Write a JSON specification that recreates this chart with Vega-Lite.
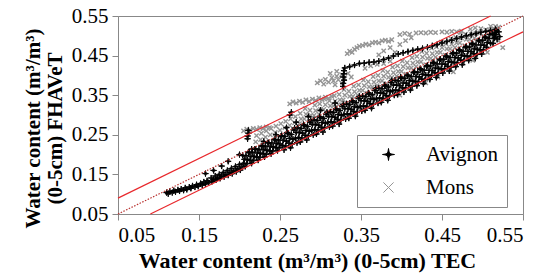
{
"$schema": "https://vega.github.io/schema/vega-lite/v6.json",
"width": 405,
"height": 198,
"autosize": {"type": "none"},
"padding": {"left": 118, "top": 16, "right": 24, "bottom": 61},
"background": "white",
"config": {
  "font": "Liberation Serif, Times New Roman, serif",
  "view": {"stroke": "#888888", "strokeWidth": 1},
  "axis": {"grid": false, "domainColor": "#888888", "tickColor": "#888888", "labelColor": "#000000", "labelFontSize": 21, "labelFont": "Liberation Serif, Times New Roman, serif", "titleFont": "Liberation Serif, Times New Roman, serif", "titleFontSize": 21, "titleFontWeight": "bold", "titleColor": "#000000", "tickSize": 6, "labelPadding": 4},
  "legend": {"labelFont": "Liberation Serif, Times New Roman, serif", "labelFontSize": 21, "labelColor": "#000000"}
},
"encoding": {
  "x": {"field": "x", "type": "quantitative", "scale": {"domain": [0.05, 0.55], "nice": false, "zero": false},
        "axis": {"values": [0.05, 0.15, 0.25, 0.35, 0.45, 0.55], "format": ".2f", "title": "Water content (m³/m³)  (0-5cm) TEC", "titleFontSize": 22, "titlePadding": 5, "titleX": 189}},
  "y": {"field": "y", "type": "quantitative", "scale": {"domain": [0.05, 0.55], "nice": false, "zero": false},
        "axis": {"values": [0.05, 0.15, 0.25, 0.35, 0.45, 0.55], "format": ".2f", "title": ["Water content (m³/m³)", "(0-5cm) FHAVeT"], "titlePadding": 6, "titleY": 112, "titleLineHeight": 22}}
},
"layer": [
{
  "data": {"values": [
{"x":0.220,"y":0.232},{"x":0.221,"y":0.248},{"x":0.226,"y":0.238},{"x":0.227,"y":0.254},{"x":0.232,"y":0.244},{"x":0.233,"y":0.260},{"x":0.238,"y":0.250},{"x":0.239,"y":0.266},{"x":0.244,"y":0.256},{"x":0.245,"y":0.272},{"x":0.250,"y":0.262},{"x":0.251,"y":0.278},{"x":0.256,"y":0.268},{"x":0.257,"y":0.284},{"x":0.262,"y":0.274},{"x":0.263,"y":0.290},{"x":0.268,"y":0.280},{"x":0.269,"y":0.296},
{"x":0.274,"y":0.278},{"x":0.276,"y":0.290},{"x":0.275,"y":0.304},
{"x":0.280,"y":0.290},{"x":0.282,"y":0.302},{"x":0.281,"y":0.316},
{"x":0.286,"y":0.283},{"x":0.288,"y":0.299},{"x":0.287,"y":0.312},
{"x":0.292,"y":0.299},{"x":0.294,"y":0.311},{"x":0.293,"y":0.325},
{"x":0.298,"y":0.302},{"x":0.300,"y":0.314},{"x":0.299,"y":0.328},
{"x":0.304,"y":0.314},{"x":0.306,"y":0.326},{"x":0.305,"y":0.340},
{"x":0.310,"y":0.307},{"x":0.312,"y":0.323},{"x":0.311,"y":0.336},
{"x":0.316,"y":0.323},{"x":0.318,"y":0.335},{"x":0.317,"y":0.349},
{"x":0.322,"y":0.326},{"x":0.324,"y":0.338},{"x":0.323,"y":0.352},
{"x":0.328,"y":0.338},{"x":0.330,"y":0.350},{"x":0.329,"y":0.364},
{"x":0.334,"y":0.331},{"x":0.336,"y":0.347},{"x":0.335,"y":0.360},
{"x":0.340,"y":0.347},{"x":0.342,"y":0.359},{"x":0.341,"y":0.373},
{"x":0.346,"y":0.350},{"x":0.348,"y":0.362},{"x":0.347,"y":0.376},
{"x":0.352,"y":0.362},{"x":0.354,"y":0.374},{"x":0.353,"y":0.388},
{"x":0.358,"y":0.355},{"x":0.360,"y":0.371},{"x":0.359,"y":0.384},
{"x":0.364,"y":0.371},{"x":0.366,"y":0.383},{"x":0.365,"y":0.397},
{"x":0.370,"y":0.374},{"x":0.372,"y":0.386},{"x":0.371,"y":0.400},
{"x":0.376,"y":0.386},{"x":0.378,"y":0.398},{"x":0.377,"y":0.412},
{"x":0.382,"y":0.379},{"x":0.384,"y":0.395},{"x":0.383,"y":0.408},
{"x":0.388,"y":0.395},{"x":0.390,"y":0.407},{"x":0.389,"y":0.421},
{"x":0.394,"y":0.398},{"x":0.396,"y":0.410},{"x":0.395,"y":0.424},
{"x":0.400,"y":0.410},{"x":0.402,"y":0.422},{"x":0.401,"y":0.436},
{"x":0.406,"y":0.403},{"x":0.408,"y":0.419},{"x":0.407,"y":0.432},
{"x":0.412,"y":0.419},{"x":0.414,"y":0.431},{"x":0.413,"y":0.445},
{"x":0.418,"y":0.422},{"x":0.420,"y":0.434},{"x":0.419,"y":0.448},
{"x":0.424,"y":0.434},{"x":0.426,"y":0.446},{"x":0.425,"y":0.460},
{"x":0.430,"y":0.427},{"x":0.432,"y":0.443},{"x":0.431,"y":0.456},
{"x":0.436,"y":0.443},{"x":0.438,"y":0.455},{"x":0.437,"y":0.469},
{"x":0.442,"y":0.446},{"x":0.444,"y":0.458},{"x":0.443,"y":0.472},
{"x":0.448,"y":0.458},{"x":0.450,"y":0.470},{"x":0.449,"y":0.484},
{"x":0.454,"y":0.451},{"x":0.456,"y":0.467},{"x":0.455,"y":0.480},
{"x":0.460,"y":0.467},{"x":0.462,"y":0.479},{"x":0.461,"y":0.493},
{"x":0.466,"y":0.470},{"x":0.468,"y":0.482},{"x":0.467,"y":0.496},
{"x":0.472,"y":0.482},{"x":0.474,"y":0.494},{"x":0.473,"y":0.508},
{"x":0.478,"y":0.475},{"x":0.480,"y":0.491},{"x":0.479,"y":0.504},
{"x":0.484,"y":0.491},{"x":0.486,"y":0.503},{"x":0.485,"y":0.517},
{"x":0.490,"y":0.494},{"x":0.492,"y":0.506},{"x":0.491,"y":0.520},
{"x":0.496,"y":0.506},{"x":0.498,"y":0.518},
{"x":0.502,"y":0.499},{"x":0.504,"y":0.515},
{"x":0.508,"y":0.515},{"x":0.510,"y":0.524},
{"x":0.514,"y":0.518},{"x":0.516,"y":0.524},
{"x":0.520,"y":0.522},
{"x":0.205,"y":0.260},{"x":0.209,"y":0.264},{"x":0.213,"y":0.262},{"x":0.217,"y":0.266},{"x":0.221,"y":0.264},{"x":0.225,"y":0.268},{"x":0.229,"y":0.266},{"x":0.233,"y":0.270},{"x":0.237,"y":0.268},
{"x":0.262,"y":0.328},{"x":0.266,"y":0.333},{"x":0.270,"y":0.330},{"x":0.274,"y":0.335},{"x":0.278,"y":0.332},{"x":0.282,"y":0.338},{"x":0.286,"y":0.334},{"x":0.290,"y":0.340},{"x":0.294,"y":0.337},{"x":0.298,"y":0.343},{"x":0.302,"y":0.339},{"x":0.306,"y":0.345},{"x":0.310,"y":0.342},{"x":0.314,"y":0.347},
{"x":0.296,"y":0.381},{"x":0.300,"y":0.386},{"x":0.304,"y":0.378},{"x":0.306,"y":0.390},{"x":0.310,"y":0.383},{"x":0.314,"y":0.394},{"x":0.316,"y":0.386},{"x":0.320,"y":0.398},{"x":0.322,"y":0.389},{"x":0.326,"y":0.402},{"x":0.330,"y":0.392},{"x":0.334,"y":0.405},{"x":0.338,"y":0.396},{"x":0.318,"y":0.376},{"x":0.327,"y":0.380},{"x":0.312,"y":0.405},{"x":0.320,"y":0.410},
{"x":0.333,"y":0.455},{"x":0.336,"y":0.461},{"x":0.339,"y":0.458},{"x":0.342,"y":0.466},{"x":0.345,"y":0.470},{"x":0.348,"y":0.474},{"x":0.352,"y":0.476},{"x":0.356,"y":0.479},{"x":0.360,"y":0.477},{"x":0.364,"y":0.482},{"x":0.368,"y":0.484},{"x":0.372,"y":0.482},{"x":0.376,"y":0.487},{"x":0.380,"y":0.489},{"x":0.384,"y":0.486},{"x":0.388,"y":0.490},
{"x":0.398,"y":0.503},{"x":0.404,"y":0.506},{"x":0.410,"y":0.504},{"x":0.418,"y":0.507},{"x":0.424,"y":0.508},{"x":0.430,"y":0.507},{"x":0.436,"y":0.509},{"x":0.442,"y":0.508},{"x":0.450,"y":0.510},{"x":0.456,"y":0.509},{"x":0.462,"y":0.511},{"x":0.468,"y":0.510},{"x":0.474,"y":0.512},
{"x":0.372,"y":0.452},{"x":0.378,"y":0.462},{"x":0.386,"y":0.470},{"x":0.392,"y":0.458},{"x":0.398,"y":0.478},{"x":0.405,"y":0.488},{"x":0.412,"y":0.495},
{"x":0.355,"y":0.418},{"x":0.362,"y":0.424},{"x":0.370,"y":0.428},{"x":0.378,"y":0.430},{"x":0.386,"y":0.436},
{"x":0.398,"y":0.350},{"x":0.430,"y":0.381},{"x":0.445,"y":0.396},{"x":0.464,"y":0.409},{"x":0.488,"y":0.438},{"x":0.506,"y":0.458},{"x":0.525,"y":0.470},{"x":0.520,"y":0.487}
  ]},
  "mark": {"type": "point", "filled": false, "fill": "#000000", "strokeWidth": 1.4, "size": 26, "opacity": 1},
  "encoding": {
    "color": {"datum": "Mons", "type": "nominal", "scale": {"domain": ["Avignon", "Mons"], "range": ["#000000", "#959595"]},
      "legend": {"title": null, "orient": "none", "legendX": 239, "legendY": 119, "strokeColor": "#888888", "fillColor": "#ffffff", "padding": 9, "symbolOffset": 12, "labelOffset": 27, "rowPadding": 11, "symbolSize": 144, "symbolStrokeWidth": 1, "symbolFillColor": "#000000"}},
    "shape": {"datum": "Mons", "type": "nominal", "scale": {"domain": ["Avignon", "Mons"], "range": ["M0,-1C0.1,-0.2 0.2,-0.1 1,0C0.2,0.1 0.1,0.2 0,1C-0.1,0.2 -0.2,0.1 -1,0C-0.2,-0.1 -0.1,-0.2 0,-1Z", "M-0.85,-0.85L0.85,0.85M0.85,-0.85L-0.85,0.85"]},
      "legend": {"title": null, "orient": "none", "legendX": 239, "legendY": 119, "strokeColor": "#888888", "fillColor": "#ffffff", "padding": 9, "symbolOffset": 12, "labelOffset": 27, "rowPadding": 11, "symbolSize": 144, "symbolStrokeWidth": 1, "symbolFillColor": "#000000"}}
  }
},
{
  "data": {"values": [
{"x":0.110,"y":0.104},{"x":0.112,"y":0.101},{"x":0.114,"y":0.107},{"x":0.117,"y":0.104},{"x":0.119,"y":0.109},{"x":0.121,"y":0.106},{"x":0.124,"y":0.111},{"x":0.126,"y":0.108},{"x":0.128,"y":0.113},{"x":0.131,"y":0.110},{"x":0.133,"y":0.116},{"x":0.135,"y":0.112},{"x":0.138,"y":0.118},{"x":0.140,"y":0.115},{"x":0.142,"y":0.121},{"x":0.145,"y":0.118},{"x":0.147,"y":0.124},{"x":0.149,"y":0.120},{"x":0.152,"y":0.127},{"x":0.154,"y":0.123},{"x":0.156,"y":0.131},{"x":0.158,"y":0.126},{"x":0.160,"y":0.134},{"x":0.162,"y":0.129},
{"x":0.165,"y":0.141},{"x":0.166,"y":0.132},{"x":0.168,"y":0.137},{"x":0.170,"y":0.146},{"x":0.171,"y":0.136},{"x":0.173,"y":0.141},{"x":0.175,"y":0.150},{"x":0.176,"y":0.140},{"x":0.178,"y":0.146},{"x":0.180,"y":0.155},{"x":0.181,"y":0.144},{"x":0.183,"y":0.150},{"x":0.185,"y":0.160},{"x":0.186,"y":0.148},{"x":0.188,"y":0.155},{"x":0.190,"y":0.165},{"x":0.191,"y":0.152},{"x":0.193,"y":0.159},{"x":0.195,"y":0.170},{"x":0.196,"y":0.157},{"x":0.198,"y":0.164},{"x":0.200,"y":0.175},{"x":0.201,"y":0.161},{"x":0.203,"y":0.169},
{"x":0.158,"y":0.152},{"x":0.168,"y":0.160},{"x":0.178,"y":0.171},{"x":0.186,"y":0.183},{"x":0.200,"y":0.200},{"x":0.215,"y":0.214},{"x":0.230,"y":0.233},{"x":0.245,"y":0.250},{"x":0.258,"y":0.268},{"x":0.270,"y":0.282},{"x":0.262,"y":0.300},{"x":0.264,"y":0.307},{"x":0.285,"y":0.296},{"x":0.300,"y":0.312},{"x":0.318,"y":0.330},
{"x":0.210,"y":0.240},{"x":0.210,"y":0.247},{"x":0.211,"y":0.254},{"x":0.211,"y":0.261},
{"x":0.204,"y":0.198},{"x":0.206,"y":0.188},{"x":0.205,"y":0.178},{"x":0.207,"y":0.170},
{"x":0.208,"y":0.197},{"x":0.210,"y":0.187},{"x":0.209,"y":0.177},{"x":0.211,"y":0.206},
{"x":0.212,"y":0.206},{"x":0.214,"y":0.196},{"x":0.213,"y":0.186},{"x":0.215,"y":0.178},
{"x":0.216,"y":0.205},{"x":0.218,"y":0.195},{"x":0.217,"y":0.185},{"x":0.219,"y":0.214},
{"x":0.220,"y":0.214},{"x":0.222,"y":0.204},{"x":0.221,"y":0.194},{"x":0.223,"y":0.186},
{"x":0.224,"y":0.213},{"x":0.226,"y":0.203},{"x":0.225,"y":0.193},{"x":0.227,"y":0.222},
{"x":0.228,"y":0.222},{"x":0.230,"y":0.212},{"x":0.229,"y":0.202},{"x":0.231,"y":0.194},
{"x":0.232,"y":0.221},{"x":0.234,"y":0.211},{"x":0.233,"y":0.201},{"x":0.235,"y":0.230},
{"x":0.236,"y":0.230},{"x":0.238,"y":0.220},{"x":0.237,"y":0.210},{"x":0.239,"y":0.202},
{"x":0.240,"y":0.229},{"x":0.242,"y":0.219},{"x":0.241,"y":0.209},{"x":0.243,"y":0.238},
{"x":0.244,"y":0.238},{"x":0.246,"y":0.228},{"x":0.245,"y":0.218},{"x":0.247,"y":0.210},
{"x":0.248,"y":0.237},{"x":0.250,"y":0.227},{"x":0.249,"y":0.217},{"x":0.251,"y":0.246},
{"x":0.252,"y":0.248},{"x":0.254,"y":0.236},{"x":0.253,"y":0.223},{"x":0.255,"y":0.212},
{"x":0.256,"y":0.246},{"x":0.258,"y":0.234},{"x":0.257,"y":0.222},{"x":0.259,"y":0.256},
{"x":0.260,"y":0.253},{"x":0.262,"y":0.241},{"x":0.261,"y":0.229},{"x":0.263,"y":0.217},
{"x":0.264,"y":0.251},{"x":0.266,"y":0.239},{"x":0.265,"y":0.227},{"x":0.267,"y":0.262},
{"x":0.268,"y":0.267},{"x":0.270,"y":0.256},{"x":0.269,"y":0.241},{"x":0.271,"y":0.230},
{"x":0.272,"y":0.268},{"x":0.274,"y":0.256},{"x":0.273,"y":0.243},{"x":0.275,"y":0.232},
{"x":0.276,"y":0.266},{"x":0.278,"y":0.254},{"x":0.277,"y":0.242},{"x":0.279,"y":0.276},
{"x":0.280,"y":0.273},{"x":0.282,"y":0.261},{"x":0.281,"y":0.249},{"x":0.283,"y":0.237},
{"x":0.284,"y":0.271},{"x":0.286,"y":0.259},{"x":0.285,"y":0.247},{"x":0.287,"y":0.282},
{"x":0.288,"y":0.287},{"x":0.290,"y":0.276},{"x":0.289,"y":0.261},{"x":0.291,"y":0.250},
{"x":0.292,"y":0.288},{"x":0.294,"y":0.276},{"x":0.293,"y":0.263},{"x":0.295,"y":0.252},
{"x":0.296,"y":0.286},{"x":0.298,"y":0.274},{"x":0.297,"y":0.262},{"x":0.299,"y":0.296},
{"x":0.300,"y":0.293},{"x":0.302,"y":0.281},{"x":0.301,"y":0.269},{"x":0.303,"y":0.257},
{"x":0.304,"y":0.291},{"x":0.306,"y":0.279},{"x":0.305,"y":0.267},{"x":0.307,"y":0.302},
{"x":0.308,"y":0.307},{"x":0.310,"y":0.296},{"x":0.309,"y":0.281},{"x":0.311,"y":0.270},
{"x":0.312,"y":0.308},{"x":0.314,"y":0.296},{"x":0.313,"y":0.283},{"x":0.315,"y":0.272},
{"x":0.316,"y":0.306},{"x":0.318,"y":0.294},{"x":0.317,"y":0.282},{"x":0.319,"y":0.316},
{"x":0.320,"y":0.313},{"x":0.322,"y":0.301},{"x":0.321,"y":0.289},{"x":0.323,"y":0.277},
{"x":0.324,"y":0.311},{"x":0.326,"y":0.299},{"x":0.325,"y":0.287},{"x":0.327,"y":0.322},
{"x":0.328,"y":0.327},{"x":0.330,"y":0.316},{"x":0.329,"y":0.301},{"x":0.331,"y":0.290},
{"x":0.332,"y":0.328},{"x":0.334,"y":0.316},{"x":0.333,"y":0.303},{"x":0.335,"y":0.292},
{"x":0.336,"y":0.326},{"x":0.338,"y":0.314},{"x":0.337,"y":0.302},{"x":0.339,"y":0.336},
{"x":0.340,"y":0.333},{"x":0.342,"y":0.321},{"x":0.341,"y":0.309},{"x":0.343,"y":0.297},
{"x":0.344,"y":0.331},{"x":0.346,"y":0.319},{"x":0.345,"y":0.307},{"x":0.347,"y":0.342},
{"x":0.348,"y":0.347},{"x":0.350,"y":0.336},{"x":0.349,"y":0.321},{"x":0.351,"y":0.310},
{"x":0.352,"y":0.348},{"x":0.354,"y":0.336},{"x":0.353,"y":0.323},{"x":0.355,"y":0.312},
{"x":0.356,"y":0.346},{"x":0.358,"y":0.334},{"x":0.357,"y":0.322},{"x":0.359,"y":0.356},
{"x":0.360,"y":0.353},{"x":0.362,"y":0.341},{"x":0.361,"y":0.329},{"x":0.363,"y":0.317},
{"x":0.364,"y":0.351},{"x":0.366,"y":0.339},{"x":0.365,"y":0.327},{"x":0.367,"y":0.362},
{"x":0.368,"y":0.367},{"x":0.370,"y":0.356},{"x":0.369,"y":0.341},{"x":0.371,"y":0.330},
{"x":0.372,"y":0.368},{"x":0.374,"y":0.356},{"x":0.373,"y":0.343},{"x":0.375,"y":0.332},
{"x":0.376,"y":0.366},{"x":0.378,"y":0.354},{"x":0.377,"y":0.342},{"x":0.379,"y":0.376},
{"x":0.380,"y":0.373},{"x":0.382,"y":0.361},{"x":0.381,"y":0.349},{"x":0.383,"y":0.337},
{"x":0.384,"y":0.371},{"x":0.386,"y":0.359},{"x":0.385,"y":0.347},{"x":0.387,"y":0.382},
{"x":0.388,"y":0.387},{"x":0.390,"y":0.376},{"x":0.389,"y":0.361},{"x":0.391,"y":0.350},
{"x":0.392,"y":0.388},{"x":0.394,"y":0.376},{"x":0.393,"y":0.363},{"x":0.395,"y":0.352},
{"x":0.396,"y":0.386},{"x":0.398,"y":0.374},{"x":0.397,"y":0.362},{"x":0.399,"y":0.396},
{"x":0.400,"y":0.393},{"x":0.402,"y":0.381},{"x":0.401,"y":0.369},{"x":0.403,"y":0.358},
{"x":0.404,"y":0.392},{"x":0.406,"y":0.380},{"x":0.405,"y":0.368},{"x":0.407,"y":0.401},
{"x":0.408,"y":0.399},{"x":0.410,"y":0.387},{"x":0.409,"y":0.375},{"x":0.411,"y":0.363},
{"x":0.412,"y":0.397},{"x":0.414,"y":0.385},{"x":0.413,"y":0.373},{"x":0.415,"y":0.407},
{"x":0.416,"y":0.409},{"x":0.418,"y":0.397},{"x":0.417,"y":0.385},{"x":0.419,"y":0.374},
{"x":0.420,"y":0.408},{"x":0.422,"y":0.396},{"x":0.421,"y":0.384},{"x":0.423,"y":0.417},
{"x":0.424,"y":0.415},{"x":0.426,"y":0.403},{"x":0.425,"y":0.391},{"x":0.427,"y":0.379},
{"x":0.428,"y":0.413},{"x":0.430,"y":0.401},{"x":0.429,"y":0.389},{"x":0.431,"y":0.423},
{"x":0.432,"y":0.425},{"x":0.434,"y":0.413},{"x":0.433,"y":0.401},{"x":0.435,"y":0.390},
{"x":0.436,"y":0.424},{"x":0.438,"y":0.412},{"x":0.437,"y":0.400},{"x":0.439,"y":0.433},
{"x":0.440,"y":0.431},{"x":0.442,"y":0.419},{"x":0.441,"y":0.407},{"x":0.443,"y":0.395},
{"x":0.444,"y":0.429},{"x":0.446,"y":0.417},{"x":0.445,"y":0.405},{"x":0.447,"y":0.439},
{"x":0.448,"y":0.441},{"x":0.450,"y":0.429},{"x":0.449,"y":0.417},{"x":0.451,"y":0.406},
{"x":0.452,"y":0.440},{"x":0.454,"y":0.428},{"x":0.453,"y":0.416},{"x":0.455,"y":0.449},
{"x":0.456,"y":0.447},{"x":0.458,"y":0.435},{"x":0.457,"y":0.423},{"x":0.459,"y":0.411},
{"x":0.460,"y":0.445},{"x":0.462,"y":0.433},{"x":0.461,"y":0.421},{"x":0.463,"y":0.455},
{"x":0.464,"y":0.457},{"x":0.466,"y":0.445},{"x":0.465,"y":0.433},{"x":0.467,"y":0.422},
{"x":0.468,"y":0.456},{"x":0.470,"y":0.444},{"x":0.469,"y":0.432},{"x":0.471,"y":0.465},
{"x":0.472,"y":0.463},{"x":0.474,"y":0.451},{"x":0.473,"y":0.439},{"x":0.475,"y":0.427},
{"x":0.476,"y":0.461},{"x":0.478,"y":0.449},{"x":0.477,"y":0.437},{"x":0.479,"y":0.471},
{"x":0.480,"y":0.473},{"x":0.482,"y":0.461},{"x":0.481,"y":0.449},{"x":0.483,"y":0.438},
{"x":0.484,"y":0.472},{"x":0.486,"y":0.460},{"x":0.485,"y":0.448},{"x":0.487,"y":0.481},
{"x":0.488,"y":0.479},{"x":0.490,"y":0.467},{"x":0.489,"y":0.455},{"x":0.491,"y":0.443},
{"x":0.492,"y":0.477},{"x":0.494,"y":0.465},{"x":0.493,"y":0.453},{"x":0.495,"y":0.487},
{"x":0.496,"y":0.489},{"x":0.498,"y":0.477},{"x":0.497,"y":0.465},{"x":0.499,"y":0.454},
{"x":0.500,"y":0.488},{"x":0.502,"y":0.476},{"x":0.501,"y":0.464},{"x":0.503,"y":0.497},
{"x":0.504,"y":0.495},{"x":0.506,"y":0.483},{"x":0.505,"y":0.471},
{"x":0.508,"y":0.493},{"x":0.510,"y":0.481},{"x":0.509,"y":0.503},
{"x":0.512,"y":0.505},{"x":0.514,"y":0.493},{"x":0.513,"y":0.481},
{"x":0.516,"y":0.504},{"x":0.518,"y":0.492},{"x":0.517,"y":0.513},
{"x":0.520,"y":0.510},{"x":0.521,"y":0.498},
{"x":0.328,"y":0.372},{"x":0.328,"y":0.380},{"x":0.329,"y":0.388},{"x":0.328,"y":0.396},{"x":0.329,"y":0.404},{"x":0.329,"y":0.412},{"x":0.330,"y":0.419},{"x":0.336,"y":0.422},{"x":0.342,"y":0.426},{"x":0.348,"y":0.430},{"x":0.354,"y":0.431},{"x":0.360,"y":0.433},{"x":0.366,"y":0.434},{"x":0.372,"y":0.436},{"x":0.378,"y":0.440},{"x":0.384,"y":0.444},{"x":0.390,"y":0.449},{"x":0.396,"y":0.454},{"x":0.402,"y":0.457},{"x":0.408,"y":0.460},{"x":0.414,"y":0.463},{"x":0.420,"y":0.466},{"x":0.426,"y":0.468},{"x":0.432,"y":0.471},{"x":0.438,"y":0.475},{"x":0.444,"y":0.478},{"x":0.450,"y":0.482},{"x":0.456,"y":0.486},{"x":0.462,"y":0.489},{"x":0.468,"y":0.493},{"x":0.474,"y":0.497},{"x":0.480,"y":0.500},{"x":0.486,"y":0.503},{"x":0.492,"y":0.506},{"x":0.498,"y":0.509},{"x":0.504,"y":0.511},{"x":0.510,"y":0.513},{"x":0.516,"y":0.516},{"x":0.515,"y":0.495},{"x":0.515,"y":0.502},{"x":0.516,"y":0.509}
  ]},
  "mark": {"type": "point", "filled": false, "fill": "#000000", "strokeWidth": 1, "size": 36, "opacity": 1},
  "encoding": {
    "color": {"datum": "Avignon", "type": "nominal", "scale": {"domain": ["Avignon", "Mons"], "range": ["#000000", "#959595"]},
      "legend": {"title": null, "orient": "none", "legendX": 239, "legendY": 119, "strokeColor": "#888888", "fillColor": "#ffffff", "padding": 9, "symbolOffset": 12, "labelOffset": 27, "rowPadding": 11, "symbolSize": 144, "symbolStrokeWidth": 1, "symbolFillColor": "#000000"}},
    "shape": {"datum": "Avignon", "type": "nominal", "scale": {"domain": ["Avignon", "Mons"], "range": ["M0,-1C0.1,-0.2 0.2,-0.1 1,0C0.2,0.1 0.1,0.2 0,1C-0.1,0.2 -0.2,0.1 -1,0C-0.2,-0.1 -0.1,-0.2 0,-1Z", "M-0.85,-0.85L0.85,0.85M0.85,-0.85L-0.85,0.85"]},
      "legend": {"title": null, "orient": "none", "legendX": 239, "legendY": 119, "strokeColor": "#888888", "fillColor": "#ffffff", "padding": 9, "symbolOffset": 12, "labelOffset": 27, "rowPadding": 11, "symbolSize": 144, "symbolStrokeWidth": 1, "symbolFillColor": "#000000"}}
  }
},
{
  "data": {"values": [
    {"line": "upper", "x": 0.05, "y": 0.09}, {"line": "upper", "x": 0.51, "y": 0.55},
    {"line": "lower", "x": 0.09, "y": 0.05}, {"line": "lower", "x": 0.55, "y": 0.51}
  ]},
  "mark": {"type": "line", "color": "#e8282c", "strokeWidth": 1.2},
  "encoding": {"detail": {"field": "line", "type": "nominal"}}
},
{
  "data": {"values": [{"x": 0.05, "y": 0.05}, {"x": 0.55, "y": 0.55}]},
  "mark": {"type": "line", "color": "#b8312f", "strokeWidth": 1.2, "strokeDash": [1.5, 1.5]},
  "encoding": {}
}
]
}
